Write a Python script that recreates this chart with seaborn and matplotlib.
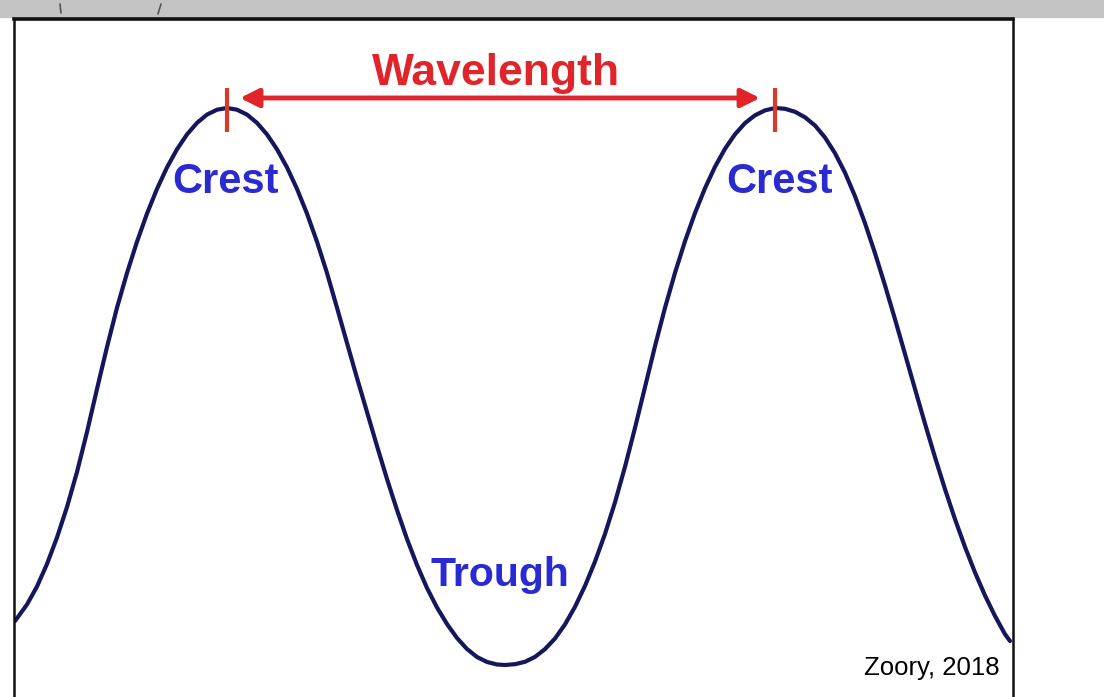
import numpy as np
import pandas as pd
import seaborn as sns
import matplotlib.pyplot as plt
from matplotlib.patches import Rectangle
from matplotlib.lines import Line2D

# wave (pixel positions inside the framed box)
wave_x = [15, 27, 37, 47, 57, 67, 77, 87, 97, 107, 117, 127, 137, 147, 157, 167, 177, 187,
          197, 207, 217, 227,
          237, 247, 257, 267, 277, 287, 297, 307, 317, 327, 337, 347, 357, 367, 377, 387,
          397, 407, 417, 427, 437, 447, 457, 467, 477, 487, 497, 505,
          515, 525, 535, 545, 555, 565, 575, 585, 595, 605, 615, 625, 635, 645, 655, 665,
          675, 685, 695, 705, 715, 725, 735, 745, 755, 765, 775,
          785, 795, 805, 815, 825, 835, 845, 855, 865, 875, 885, 895, 905, 915, 925, 935,
          945, 955, 965, 975, 985, 995, 1005, 1010]
wave_y = [621, 604.5, 586.5, 564, 537.5, 507, 472, 432, 389, 347, 307.7, 273, 241.7, 213.6,
          188.9, 167.4, 149.3, 134.4, 122.9, 114.6, 109.7, 108,
          109.7, 114.6, 122.9, 134.4, 149.3, 167.4, 188.9, 213.6, 241.7, 273, 307.7, 343,
          378, 412, 446, 479, 510, 539, 565, 588, 607.5, 624, 638, 649, 657, 662, 664.5, 665,
          664.2, 661.8, 656.9, 649.1, 638.5, 624.4, 606.8, 585.9, 561.6, 533.9, 502.3,
          466.8, 427.9, 387.1, 346.2, 307.8, 272.8, 241.2, 213.0, 188.2, 166.8, 148.8,
          134.3, 123.1, 115.3, 110.4, 108.0,
          108.8, 111.8, 117.3, 125.5, 137.5, 153.2, 172.7, 196.2, 223.2, 253.2, 285.4,
          319.2, 354.0, 389.0, 423.7, 457.2, 489.2, 519.2, 547.0, 572.5, 595.5, 616.0,
          634.2, 641]

crest_x = [227, 775]
crest_y = 108
crest_label_x = [225, 780]
crest_labels = ["Crest", "Crest"]
trough_x = 500
trough_label = "Trough"
wavelength_label = "Wavelength"
source_label = "Zoory, 2018"

wave = pd.DataFrame({"x": wave_x, "y": wave_y})

sns.set_theme(style="white")
plt.rcParams["font.family"] = ["Liberation Sans", "DejaVu Sans"]

fig = plt.figure(figsize=(11.04, 6.97), dpi=100)
W, H = 1104, 697
left, right, top = 14, 1013, 19
ax = fig.add_axes([left / W, 0, (right - left) / W, 1 - top / H])
ax.set_xlim(left, right)
ax.set_ylim(H, top)

sns.lineplot(data=wave, x="x", y="y", sort=False, color="#16165c", lw=3.0,
             solid_capstyle="round", solid_joinstyle="round", ax=ax)

# red wavelength marker
red = "#e0242a"
ax.vlines(crest_x, crest_y - 20, crest_y + 24, color="#d83a2a", lw=3)
ax.annotate("", xy=(crest_x[1] - 15, crest_y - 10), xytext=(crest_x[0] + 13, crest_y - 10),
            arrowprops=dict(arrowstyle="<|-|>", color=red, lw=3.5, mutation_scale=28,
                            shrinkA=0, shrinkB=0))
ax.text(sum(crest_x) / 2 - 5, crest_y - 34, wavelength_label, color=red, fontsize=32,
        fontweight="bold", ha="center", va="center")

blue = "#2a2ad2"
for cx, lab in zip(crest_label_x, crest_labels):
    ax.text(cx, crest_y + 74, lab, color=blue, fontsize=30, fontweight="bold",
            ha="center", va="center")
ax.text(trough_x, 575, trough_label, color=blue, fontsize=29.5, fontweight="bold",
        ha="center", va="center")
ax.text(right - 13, 668, source_label, color="black", fontsize=18.5,
        ha="right", va="center")

ax.set_xlabel("")
ax.set_ylabel("")
ax.set_xticks([])
ax.set_yticks([])
for side in ["left", "right", "top"]:
    ax.spines[side].set_visible(True)
    ax.spines[side].set_color("#111111")
    ax.spines[side].set_linewidth(1.8)
ax.spines["bottom"].set_visible(False)
ax.spines["top"].set_linewidth(2.6)

# grey strip across the top of the page
fig.add_artist(Rectangle((0, 1 - 17 / H), 1, 17 / H, transform=fig.transFigure,
                         color="#c4c4c4", zorder=-1))
fig.add_artist(Line2D([60 / W, 61 / W], [1 - 4 / H, 1 - 13 / H], transform=fig.transFigure,
                      color="#555555", lw=1.2))
fig.add_artist(Line2D([161 / W, 158 / W], [1 - 4 / H, 1 - 14 / H], transform=fig.transFigure,
                      color="#555555", lw=1.2))

fig.savefig("out.png", dpi=100, facecolor="white")
